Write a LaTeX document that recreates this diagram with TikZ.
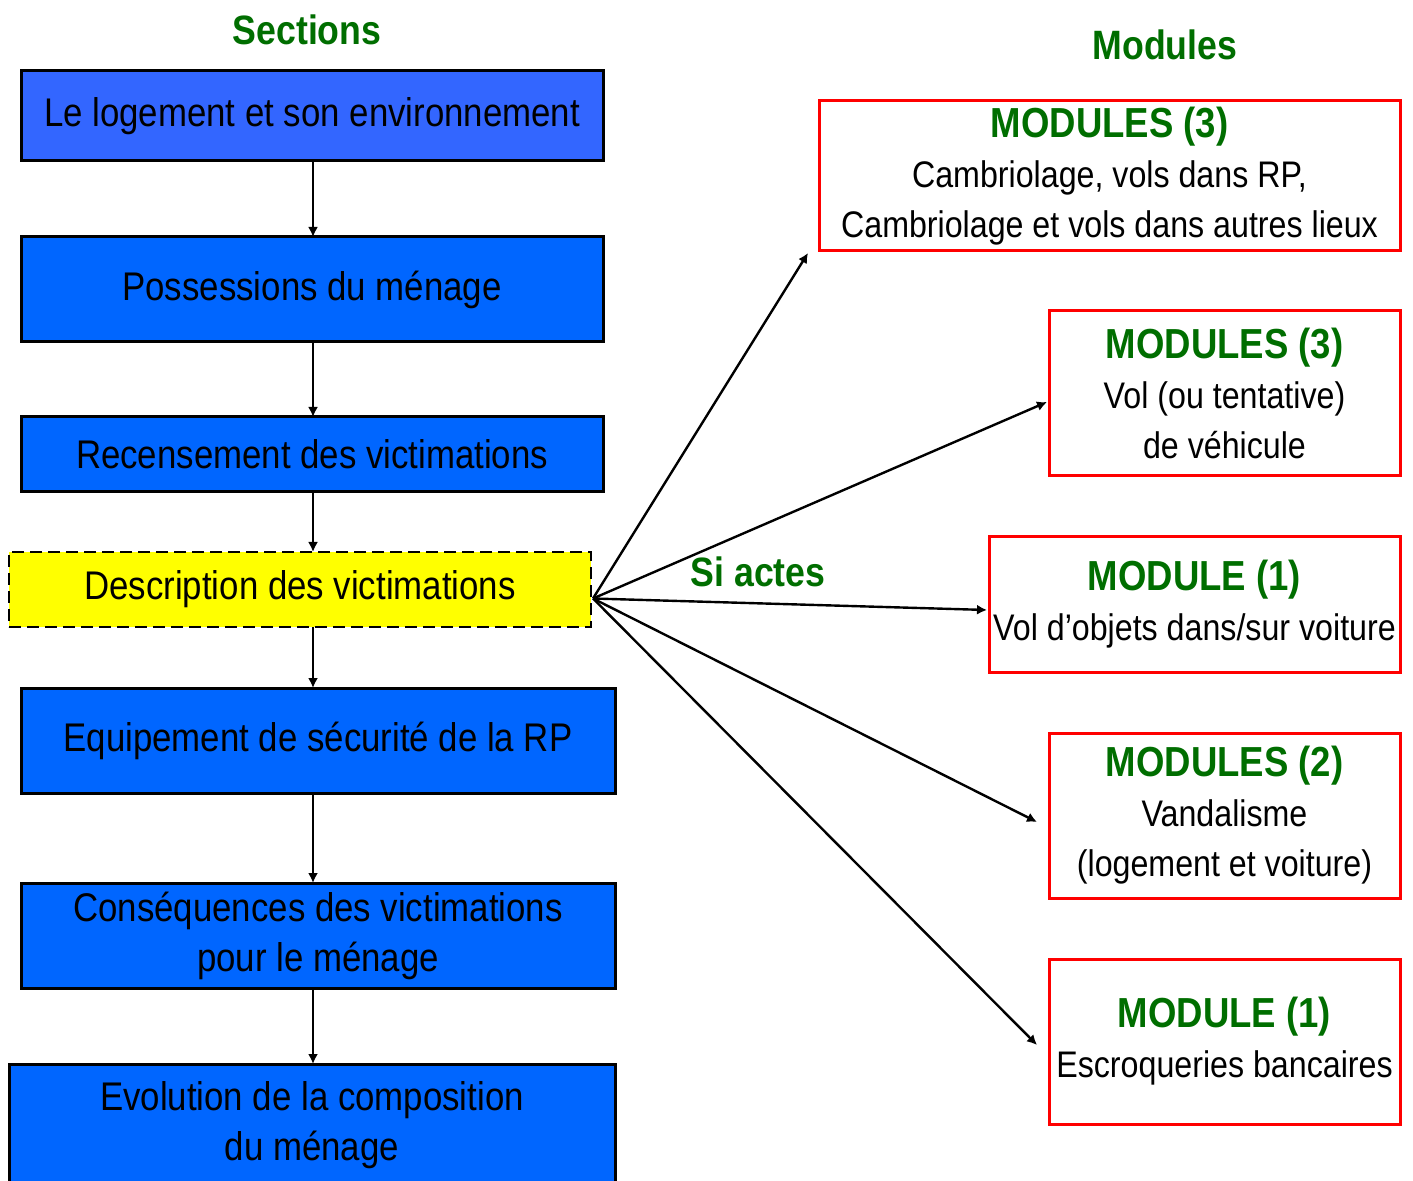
\documentclass[tikz,border=0pt]{standalone}
\usepackage{fontspec}
\setmainfont[FakeStretch=0.87]{Liberation Sans}
\usetikzlibrary{arrows.meta,calc}
\definecolor{bluea}{RGB}{51,102,255}
\definecolor{blueb}{RGB}{0,102,255}
\definecolor{dgreen}{RGB}{0,110,0}
\definecolor{yel}{RGB}{255,255,0}
\definecolor{redb}{RGB}{255,0,0}
\newcommand{\mhead}[1]{{\color{dgreen}\bfseries\fontsize{21}{25}\selectfont #1}}
\begin{document}
\begin{tikzpicture}[x=0.5pt,y=-0.5pt,
  sbox/.style={draw=black, line width=1.5pt, fill=blueb, inner sep=0pt, outer sep=0pt, align=center, font=\fontsize{20}{25}\selectfont},
  mbox/.style={draw=redb, line width=1.5pt, fill=white, inner sep=0pt, outer sep=0pt, align=center, font=\fontsize{18.5}{25}\selectfont},
  hd/.style={text=dgreen, font=\bfseries\fontsize{20.5}{24}\selectfont},
  arr/.style={-{Latex[length=5pt,width=5pt]}, line width=1.2pt},
]
\useasboundingbox (0,0) rectangle (1413,1181);
\fill[white] (0,0) rectangle (1413,1181);

\node[hd] (tsec) at (307,30) {Sections};
\node[hd] (tmod) at (1165,45) {Modules};

\node[sbox, fill=bluea, minimum width=291pt, minimum height=45pt] (b1) at (312,116) {Le logement et son environnement};
\node[sbox, minimum width=291pt, minimum height=52.5pt] (b2) at (312,289.5) {Possessions du ménage};
\node[sbox, minimum width=291pt, minimum height=37.5pt] (b3) at (312,454.5) {Recensement des victimations};
\node[sbox, fill=yel, line width=1pt, dash pattern=on 6pt off 3pt, minimum width=291pt, minimum height=37.5pt] (b4) at (300,589.5) {Description des victimations};
\node[sbox, minimum width=297pt, minimum height=52.5pt] (b5) at (318,740.5) {Equipement de sécurité de la RP};
\node[sbox, minimum width=297pt, minimum height=52.5pt] (b6) at (318,935.5) {Conséquences des victimations\\pour le ménage};
\node[sbox, minimum width=303pt, minimum height=61pt] (b7) at (312,1125) {Evolution de la composition\\du ménage};

\coordinate (ax) at (313,0);
\draw[arr] (b1.south -| ax) -- (b2.north -| ax);
\draw[arr] (b2.south -| ax) -- (b3.north -| ax);
\draw[arr] (b3.south -| ax) -- (b4.north -| ax);
\draw[arr] (b4.south -| ax) -- (b5.north -| ax);
\draw[arr] (b5.south -| ax) -- (b6.north -| ax);
\draw[arr] (b6.south -| ax) -- (b7.north -| ax);

\node[mbox, minimum width=290.5pt, minimum height=75pt] (r1) at (1109.5,176) {\mhead{MODULES (3)}\\Cambriolage, vols dans RP,\\Cambriolage et vols dans autres lieux};
\node[mbox, minimum width=175.5pt, minimum height=82.5pt] (r2) at (1224.5,393.5) {\mhead{MODULES (3)}\\Vol (ou tentative)\\de véhicule};
\node[mbox, minimum width=205.5pt, minimum height=67.5pt] (r3) at (1194.5,604.5) {\mhead{MODULE (1)}\\Vol d'objets dans/sur voiture};
\node[mbox, minimum width=175.5pt, minimum height=82.5pt] (r4) at (1224.5,815.5) {\mhead{MODULES (2)}\\Vandalisme\\(logement et voiture)};
\node[mbox, minimum width=175.5pt, minimum height=82.5pt] (r5) at (1224.5,1041.5) {\mhead{MODULE (1)}\\Escroqueries bancaires};

\coordinate (src) at ($(b4.east)+(2,9)$);
\draw[arr] (src) -- ($(r1.south west)+(-11,2)$);
\draw[arr] (src) -- ($(r2.west)+(-2,8.5)$);
\draw[arr] (src) -- ($(r3.west)+(-2,5.5)$);
\draw[arr] (src) -- ($(r4.west)+(-12,6.5)$);
\draw[arr] (src) -- ($(r5.west)+(-12,3.5)$);

\node[hd] (si) at (758,572) {Si actes};
\end{tikzpicture}
\end{document}
